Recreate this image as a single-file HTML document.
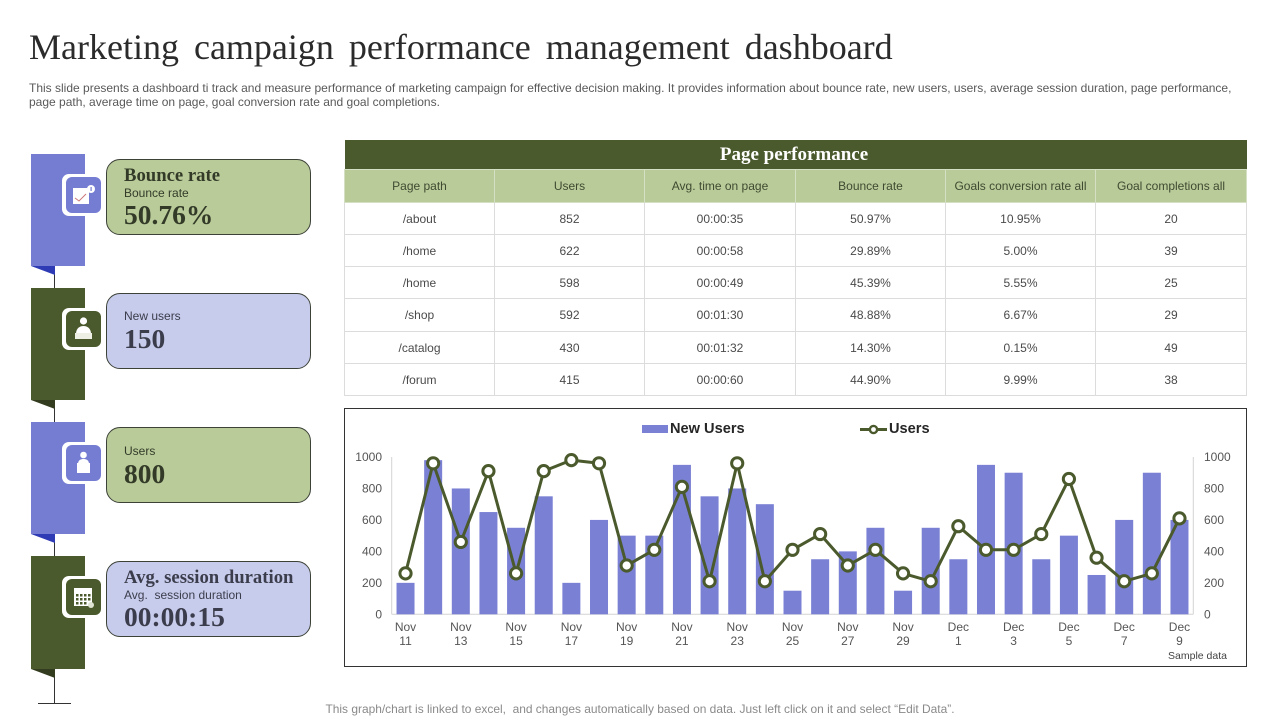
<!DOCTYPE html>
<html lang="en">
<head>
<meta charset="utf-8">
<title>Marketing campaign performance management dashboard</title>
<style>
html,body{margin:0;padding:0;background:#fff;}
body{position:relative;width:1280px;height:720px;overflow:hidden;font-family:"Liberation Sans",sans-serif;}
.abs{position:absolute;}
#title{left:29px;top:25px;font:36px/44px "Liberation Serif",serif;color:#2b2b2b;white-space:nowrap;word-spacing:6px;}
#desc{left:29px;top:81px;font-size:12px;line-height:14px;color:#595959;white-space:nowrap;}
.ribbon{left:31px;width:54px;height:112px;}
.fold{left:31px;width:24px;height:9px;clip-path:polygon(0 0,100% 0,100% 100%);}
.blue{background:#757dd3;}
.olive{background:#4b5a2c;}
.fold.blue{background:#2f3bb5;}
.fold.olive{background:#343c20;}
.iconbox{left:62px;width:36px;height:42px;background:#fff;border-radius:7px;}
.iconin{left:66px;width:35px;height:36px;border-radius:6px;}
.card{left:106px;width:203px;height:74px;border:1px solid #3c4238;border-radius:14px;}
.cg{background:#bacb9a;color:#333b28;}
.cb{background:#c8ccec;color:#3b3d4c;}
.ct{position:absolute;left:17px;white-space:nowrap;}
.h{font:bold 18.7px/20px "Liberation Serif",serif;}
.s{font-size:12px;line-height:14px;}
.v{font:bold 27.5px/30px "Liberation Serif",serif;}
#tbl{left:344px;top:140px;width:902px;height:255px;border-collapse:collapse;table-layout:fixed;}
#tbl td,#tbl th{padding:0;text-align:center;font-size:12px;font-weight:normal;color:#4a4a4a;border:1px solid #dcdcdc;}
#tbl .top{background:#4b5a2c;color:#fff;font:bold 19px "Liberation Serif",serif;padding-right:3px;height:29px;border:none;}
#tbl .hd{background:#bacb9a;color:#3f4a30;height:32px;border-color:#d5dfc3;}
#tbl tr.r td{height:31px;}
#tbl tr.r5 td{height:32px;}
#chartsvg{left:344px;top:408px;}
#foot{left:0;width:1280px;text-align:center;top:702px;font-size:11.95px;line-height:14px;color:#8a8a8a;white-space:nowrap;}
</style>
</head>
<body>
<div id="title" class="abs">Marketing campaign performance management dashboard</div>
<div id="desc" class="abs">This slide presents a dashboard ti track and measure performance of marketing campaign for effective decision making. It provides information about bounce rate, new users, users, average session duration, page performance,<br>page path, average time on page, goal conversion rate and goal completions.</div>

<div class="abs" style="left:54px;top:266px;width:1px;height:437px;background:#333"></div>
<div class="abs" style="left:38px;top:703px;width:33px;height:1px;background:#333"></div>

<div class="abs ribbon blue" style="top:154px"></div>
<div class="abs fold blue" style="top:266px"></div>
<div class="abs ribbon olive" style="top:288px"></div>
<div class="abs fold olive" style="top:400px"></div>
<div class="abs ribbon blue" style="top:422px"></div>
<div class="abs fold blue" style="top:534px"></div>
<div class="abs ribbon olive" style="top:556px;height:113px"></div>
<div class="abs fold olive" style="top:669px"></div>

<div class="abs iconbox" style="top:174px"></div>
<div class="abs iconin blue" style="top:177px">
<svg width="35" height="36" viewBox="0 0 35 36"><rect x="7" y="11" width="16" height="16" fill="#fff"/><path d="M9 21l4 3 7-7" fill="none" stroke="#c77" stroke-width="1"/><circle cx="25" cy="12" r="4" fill="#fff"/><rect x="24.500" y="10" width="1.200" height="4" fill="#757dd3"/></svg>
</div>
<div class="abs iconbox" style="top:308px"></div>
<div class="abs iconin olive" style="top:311px">
<svg width="35" height="36" viewBox="0 0 35 36"><circle cx="17.500" cy="10" r="3.600" fill="#fff"/><path d="M10 23c0-6 4-8 7.500-8s7.500 2 7.500 8z" fill="#fff"/><rect x="9" y="22" width="17" height="6" fill="#eef0e6"/></svg>
</div>
<div class="abs iconbox" style="top:442px"></div>
<div class="abs iconin blue" style="top:445px">
<svg width="35" height="36" viewBox="0 0 35 36"><circle cx="17.500" cy="10" r="3.300" fill="#fff"/><path d="M12 19c0-4 3-5 5.500-5s5.500 1 5.500 5z" fill="#fff"/><rect x="11" y="18" width="13" height="10" fill="#fff"/></svg>
</div>
<div class="abs iconbox" style="top:576px"></div>
<div class="abs iconin olive" style="top:579px">
<svg width="35" height="36" viewBox="0 0 35 36"><rect x="8" y="9" width="18" height="18" fill="#fff"/><g fill="#4b5a2c"><rect x="10" y="15" width="2.500" height="2.500"/><rect x="14" y="15" width="2.500" height="2.500"/><rect x="18" y="15" width="2.500" height="2.500"/><rect x="22" y="15" width="2.500" height="2.500"/><rect x="10" y="19" width="2.500" height="2.500"/><rect x="14" y="19" width="2.500" height="2.500"/><rect x="18" y="19" width="2.500" height="2.500"/><rect x="22" y="19" width="2.500" height="2.500"/><rect x="10" y="23" width="2.500" height="2.500"/><rect x="14" y="23" width="2.500" height="2.500"/><rect x="18" y="23" width="2.500" height="2.500"/></g><circle cx="25" cy="26" r="3" fill="#dfe3d3"/></svg>
</div>

<div class="abs card cg" style="top:159px">
<div class="ct h" style="top:6px">Bounce rate</div>
<div class="ct s" style="top:26px">Bounce rate</div>
<div class="ct v" style="top:40px">50.76%</div>
</div>
<div class="abs card cb" style="top:293px">
<div class="ct s" style="top:15px">New users</div>
<div class="ct v" style="top:30px">150</div>
</div>
<div class="abs card cg" style="top:427px">
<div class="ct s" style="top:16px">Users</div>
<div class="ct v" style="top:31px">800</div>
</div>
<div class="abs card cb" style="top:561px">
<div class="ct h" style="top:6px">Avg. session duration</div>
<div class="ct s" style="top:26px">Avg.&nbsp; session duration</div>
<div class="ct v" style="top:40px">00:00:15</div>
</div>

<table id="tbl" class="abs">
<colgroup><col style="width:150px"><col style="width:150px"><col style="width:151px"><col style="width:150px"><col style="width:150px"><col style="width:151px"></colgroup>
<tr><th class="top" colspan="6">Page performance</th></tr>
<tr><th class="hd">Page path</th><th class="hd">Users</th><th class="hd">Avg. time on page</th><th class="hd">Bounce rate</th><th class="hd">Goals conversion rate all</th><th class="hd">Goal completions all</th></tr>
<tr class="r"><td>/about</td><td>852</td><td>00:00:35</td><td>50.97%</td><td>10.95%</td><td>20</td></tr>
<tr class="r"><td>/home</td><td>622</td><td>00:00:58</td><td>29.89%</td><td>5.00%</td><td>39</td></tr>
<tr class="r"><td>/home</td><td>598</td><td>00:00:49</td><td>45.39%</td><td>5.55%</td><td>25</td></tr>
<tr class="r r5"><td>/shop</td><td>592</td><td>00:01:30</td><td>48.88%</td><td>6.67%</td><td>29</td></tr>
<tr class="r"><td>/catalog</td><td>430</td><td>00:01:32</td><td>14.30%</td><td>0.15%</td><td>49</td></tr>
<tr class="r"><td>/forum</td><td>415</td><td>00:00:60</td><td>44.90%</td><td>9.99%</td><td>38</td></tr>
</table>

<svg id="chartsvg" class="abs" width="903" height="259" viewBox="344 408 903 259" xmlns="http://www.w3.org/2000/svg"></svg>

<div id="foot" class="abs">This graph/chart is linked to excel,&nbsp; and changes automatically based on data. Just left click on it and select “Edit Data”.</div>

<script>
const categoryMonths = ['Nov','Nov','Nov','Nov','Nov','Nov','Nov','Nov','Nov','Nov','Nov','Nov','Nov','Nov','Nov','Nov','Nov','Nov','Nov','Nov','Dec','Dec','Dec','Dec','Dec','Dec','Dec','Dec','Dec'];
const categoryDays = [11,12,13,14,15,16,17,18,19,20,21,22,23,24,25,26,27,28,29,30,1,2,3,4,5,6,7,8,9];
const newUsersValues = [200,980,800,650,550,750,200,600,500,500,950,750,800,700,150,350,400,550,150,550,350,950,900,350,500,250,600,900,600];
const usersValues = [260,960,460,910,260,910,980,960,310,410,810,210,960,210,410,510,310,410,260,210,560,410,410,510,860,360,210,260,610];
const yTickLabels = [0,200,400,600,800,1000];

const svg = document.getElementById('chartsvg');
const NS = 'http://www.w3.org/2000/svg';
const plot = {left:391.7, right:1193.3, top:457, bottom:614.3};
function xScale(i){ return plot.left + (i + 0.5) * (plot.right - plot.left) / categoryDays.length; }
function yScale(v){ return plot.bottom - v / 1000 * (plot.bottom - plot.top); }
function mk(tag, attrs, text){
  const e = document.createElementNS(NS, tag);
  for (const k in attrs) e.setAttribute(k, attrs[k]);
  if (text !== undefined) e.textContent = text;
  svg.appendChild(e);
  return e;
}
const TICK = {'font-family':'"Liberation Sans",sans-serif','font-size':12,fill:'#555'};

const frame = mk('rect',{x:344.5,y:408.5,width:902,height:258,fill:'#fff',stroke:'#333','stroke-width':1});



const axisL = mk('line',{x1:plot.left,x2:plot.left,y1:plot.top,y2:plot.bottom,stroke:'#d4d4d4'});


const axisR = mk('line',{x1:plot.right,x2:plot.right,y1:plot.top,y2:plot.bottom,stroke:'#d4d4d4'});


const axisB = mk('line',{x1:plot.left,x2:plot.right,y1:plot.bottom,y2:plot.bottom,stroke:'#d4d4d4'});



const barW = 18;
newUsersValues.forEach(function(v,i){
  const b = mk('rect',{x:xScale(i)-barW/2,y:yScale(v),width:barW,height:plot.bottom-yScale(v),fill:'#7a80d4'});
  
  
});

yTickLabels.forEach(function(t){
  const l = mk('text',Object.assign({x:382,y:yScale(t)+4,'text-anchor':'end'},TICK),t);
  
  
  const r = mk('text',Object.assign({x:1204,y:yScale(t)+4,'text-anchor':'start'},TICK),t);
  
  
});

categoryDays.forEach(function(d,i){
  if (i % 2) return;
  const m = mk('text',Object.assign({x:xScale(i),y:631,'text-anchor':'middle'},TICK),categoryMonths[i]);
  
  
  const n = mk('text',Object.assign({x:xScale(i),y:645,'text-anchor':'middle'},TICK),d);
  
  
});

const line = mk('polyline',{points:usersValues.map(function(v,i){return xScale(i)+','+yScale(v);}).join(' '),fill:'none',stroke:'#4b5a2c','stroke-width':3,'stroke-linejoin':'round'});


usersValues.forEach(function(v,i){
  const c = mk('circle',{cx:xScale(i),cy:yScale(v),r:5.6,fill:'#fff',stroke:'#4b5a2c','stroke-width':3});
  
  
});

const lgBar = mk('rect',{x:642,y:425,width:26,height:8,fill:'#7a80d4'});


const lgBarText = mk('text',{x:670,y:433,'font-family':'"Liberation Sans",sans-serif','font-size':14.6,'font-weight':'bold',fill:'#262626'},'New Users');


const lgLine = mk('line',{x1:860,x2:887,y1:429.5,y2:429.5,stroke:'#4b5a2c','stroke-width':3});


const lgDot = mk('circle',{cx:873.5,cy:429.5,r:3.6,fill:'#fff',stroke:'#4b5a2c','stroke-width':2.4});


const lgLineText = mk('text',{x:889,y:433,'font-family':'"Liberation Sans",sans-serif','font-size':14.6,'font-weight':'bold',fill:'#262626'},'Users');



const sample = mk('text',{x:1227,y:659,'text-anchor':'end','font-family':'"Liberation Sans",sans-serif','font-size':10.5,fill:'#444'},'Sample data');


</script>
</body>
</html>
